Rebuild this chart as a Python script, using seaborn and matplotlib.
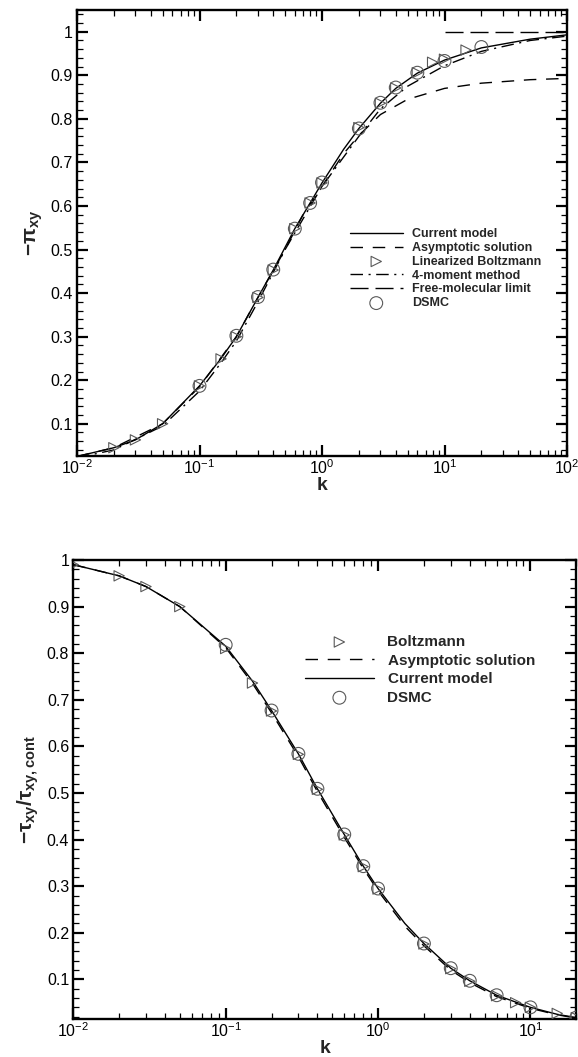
import numpy as np
import pandas as pd
import matplotlib
matplotlib.use("Agg")
import matplotlib.pyplot as plt
from matplotlib.ticker import LogLocator, MultipleLocator, NullFormatter
import seaborn as sns

# ---------------- data: top panel (-pi_xy vs k) ----------------
k_cur_top = [0.01, 0.02, 0.03, 0.05, 0.1, 0.15, 0.2, 0.3, 0.4, 0.6, 0.8, 1, 1.5, 2, 3, 4, 6, 10, 20, 50, 100]
v_cur_top = [0.025, 0.045, 0.063, 0.10, 0.187, 0.25, 0.30, 0.39, 0.453, 0.548, 0.607, 0.653, 0.73, 0.778, 0.836, 0.87, 0.905, 0.935, 0.963, 0.983, 0.993]

k_asy_top = [0.01, 0.02, 0.05, 0.1, 0.2, 0.3, 0.5, 0.7, 1, 1.5, 2, 3, 5, 10, 20, 50, 100]
v_asy_top = [0.025, 0.045, 0.10, 0.185, 0.30, 0.39, 0.50, 0.58, 0.645, 0.72, 0.762, 0.81, 0.845, 0.87, 0.882, 0.89, 0.893]

k_mom_top = [0.01, 0.02, 0.05, 0.1, 0.15, 0.2, 0.3, 0.5, 1, 2, 3, 5, 10, 20, 50, 100]
v_mom_top = [0.022, 0.04, 0.095, 0.175, 0.24, 0.29, 0.38, 0.50, 0.645, 0.76, 0.823, 0.875, 0.922, 0.955, 0.98, 0.99]

k_fm_top = [10, 100]
v_fm_top = [1.0, 1.0]

k_blz_top = [0.02, 0.03, 0.05, 0.1, 0.15, 0.2, 0.3, 0.4, 0.6, 0.8, 1, 2, 3, 4, 6, 8, 10, 15]
v_blz_top = [0.045, 0.063, 0.10, 0.187, 0.249, 0.30, 0.39, 0.453, 0.548, 0.607, 0.653, 0.78, 0.836, 0.871, 0.906, 0.93, 0.937, 0.958]

k_dsmc_top = [0.1, 0.2, 0.3, 0.4, 0.6, 0.8, 1, 2, 3, 4, 6, 10, 20]
v_dsmc_top = [0.187, 0.302, 0.391, 0.454, 0.548, 0.607, 0.654, 0.778, 0.837, 0.872, 0.906, 0.933, 0.965]

# ---------------- data: bottom panel (-tau_xy/tau_xy,cont vs k) ----------------
k_cur_bot = [0.01, 0.02, 0.03, 0.05, 0.1, 0.15, 0.2, 0.3, 0.4, 0.6, 0.8, 1, 1.5, 2, 3, 4, 6, 10, 15, 20]
v_cur_bot = [0.99, 0.966, 0.943, 0.90, 0.815, 0.74, 0.677, 0.584, 0.509, 0.411, 0.343, 0.295, 0.22, 0.177, 0.124, 0.097, 0.066, 0.04, 0.025, 0.018]

k_asy_bot = [0.01, 0.02, 0.03, 0.05, 0.1, 0.15, 0.2, 0.3, 0.4, 0.6, 0.8, 1, 1.5, 2, 3, 4, 6, 10, 15, 20]
v_asy_bot = [0.99, 0.966, 0.943, 0.90, 0.812, 0.735, 0.672, 0.578, 0.503, 0.405, 0.338, 0.29, 0.214, 0.172, 0.12, 0.093, 0.063, 0.038, 0.024, 0.017]

k_blz_bot = [0.01, 0.02, 0.03, 0.05, 0.1, 0.15, 0.2, 0.3, 0.4, 0.6, 0.8, 1, 2, 3, 4, 6, 8, 10, 15, 20]
v_blz_bot = [0.99, 0.966, 0.943, 0.90, 0.81, 0.736, 0.676, 0.583, 0.508, 0.41, 0.342, 0.294, 0.176, 0.123, 0.096, 0.065, 0.05, 0.04, 0.027, 0.018]

k_dsmc_bot = [0.1, 0.2, 0.3, 0.4, 0.6, 0.8, 1, 2, 3, 4, 6, 10, 20]
v_dsmc_bot = [0.818, 0.677, 0.584, 0.509, 0.411, 0.343, 0.295, 0.177, 0.124, 0.097, 0.066, 0.04, 0.018]

# ---------------- style ----------------
sns.set_theme(style="ticks")
plt.rcParams["font.family"] = ["Liberation Sans", "DejaVu Sans"]
plt.rcParams["mathtext.fontset"] = "custom"
plt.rcParams["mathtext.rm"] = "Liberation Sans:bold"
plt.rcParams["mathtext.it"] = "Liberation Sans:bold"
plt.rcParams["mathtext.bf"] = "Liberation Sans:bold"
plt.rcParams["axes.unicode_minus"] = True

fig = plt.figure(figsize=(5.78, 10.57), dpi=100)
ax1 = fig.add_axes([77 / 578, 1 - 456 / 1057, 490 / 578, 446 / 1057])
ax2 = fig.add_axes([73.3 / 578, 1 - 1019 / 1057, 503 / 578, 459 / 1057])

LW = 1.0
MARK_EC = "0.35"


def line(ax, k, v, ls, label):
    sns.lineplot(x=k, y=v, ax=ax, color="black", lw=LW, linestyle=ls,
                 sort=False, estimator=None, label=label, legend=False)


def points(ax, k, v, marker, size, label):
    sns.scatterplot(x=k, y=v, ax=ax, marker=marker, s=size, facecolor="none",
                    edgecolor=MARK_EC, linewidth=0.8, label=label, legend=False, zorder=3)


def style_axes(ax, xlim, ylim):
    ax.set_xscale("log")
    ax.set_xlim(*xlim)
    ax.set_ylim(*ylim)
    ax.xaxis.set_major_locator(LogLocator(base=10, numticks=10))
    ax.xaxis.set_minor_locator(LogLocator(base=10, subs=np.arange(2, 10), numticks=20))
    ax.xaxis.set_minor_formatter(NullFormatter())
    ax.yaxis.set_major_locator(MultipleLocator(0.1))
    ax.yaxis.set_minor_locator(MultipleLocator(0.02))
    ax.yaxis.set_major_formatter(matplotlib.ticker.FuncFormatter(lambda y, p: f"{y:g}"))
    ax.tick_params(which="both", direction="in", top=True, right=True, labelsize=11.5, colors="black")
    ax.tick_params(which="major", length=8, width=1.6, pad=3)
    ax.tick_params(which="minor", length=4.5, width=0.9)
    ax.tick_params(axis="x", which="major", pad=2)
    for s in ax.spines.values():
        s.set_linewidth(1.7)
        s.set_color("black")
    ax.set_xlabel("k", fontsize=14, fontweight="bold", labelpad=0)


# ---------------- top panel ----------------
line(ax1, k_cur_top, v_cur_top, "-", "Current model")
line(ax1, k_asy_top, v_asy_top, (0, (9, 7)), "Asymptotic solution")
points(ax1, k_blz_top, v_blz_top, ">", 55, "Linearized Boltzmann")
line(ax1, k_mom_top, v_mom_top, (0, (9, 4, 1.5, 4)), "4-moment method")
line(ax1, k_fm_top, v_fm_top, (0, (13, 5)), "Free-molecular limit")
points(ax1, k_dsmc_top, v_dsmc_top, "o", 85, "DSMC")
style_axes(ax1, (0.01, 100), (0.026, 1.05))
ax1.set_ylabel(r"$-\pi_{xy}$", fontsize=15, labelpad=4)
h, l = ax1.get_legend_handles_labels()
order = ["Current model", "Asymptotic solution", "Linearized Boltzmann",
         "4-moment method", "Free-molecular limit", "DSMC"]
hd = dict(zip(l, h))
leg1 = ax1.legend([hd[o] for o in order], order, loc="upper left",
                  bbox_to_anchor=(350 / 578, 1 - 228 / 1057), bbox_transform=fig.transFigure,
                  frameon=False, prop={"weight": "bold", "size": 9}, handlelength=4.2,
                  labelspacing=0.15, handletextpad=0.8, borderpad=0, borderaxespad=0)

# ---------------- bottom panel ----------------
points(ax2, k_blz_bot, v_blz_bot, ">", 55, "Boltzmann")
line(ax2, k_asy_bot, v_asy_bot, (0, (9, 7)), "Asymptotic solution")
line(ax2, k_cur_bot, v_cur_bot, "-", "Current model")
points(ax2, k_dsmc_bot, v_dsmc_bot, "o", 85, "DSMC")
style_axes(ax2, (0.01, 20), (0.015, 1.0))
ax2.set_ylabel(r"$-\tau_{xy}/\tau_{xy,cont}$", fontsize=15, labelpad=4)
h, l = ax2.get_legend_handles_labels()
order2 = ["Boltzmann", "Asymptotic solution", "Current model", "DSMC"]
hd = dict(zip(l, h))
leg2 = ax2.legend([hd[o] for o in order2], order2, loc="upper left",
                  bbox_to_anchor=(305 / 578, 1 - 635 / 1057), bbox_transform=fig.transFigure,
                  frameon=False, prop={"weight": "bold", "size": 11}, handlelength=4.5,
                  labelspacing=0.3, handletextpad=0.9, borderpad=0, borderaxespad=0)

fig.savefig("out.png", dpi=100)
